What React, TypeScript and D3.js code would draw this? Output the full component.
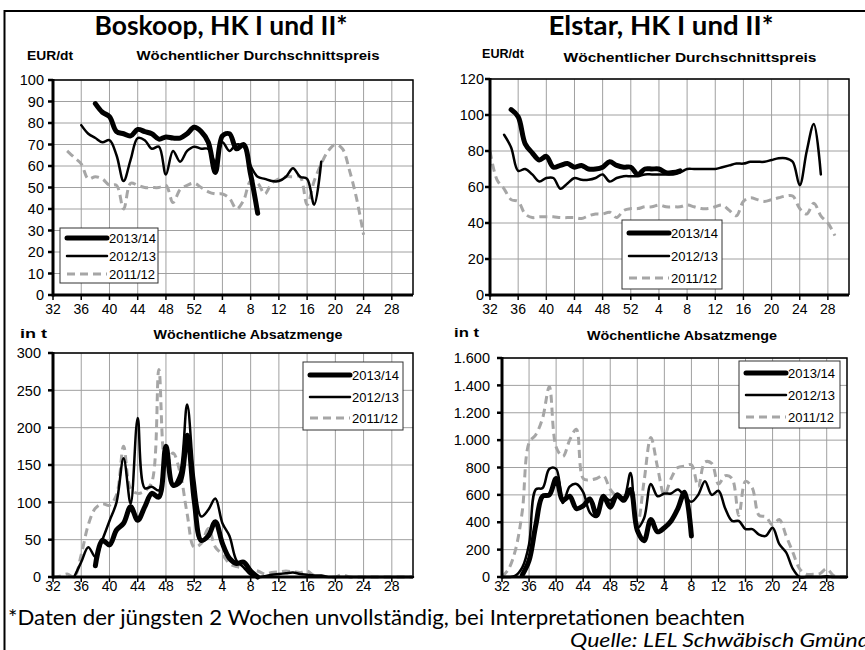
import React from 'react';
import * as d3 from 'd3';

// marketing weeks 32..52 of the first year, then 1..31 of the next
const weeks = [
  32, 33, 34, 35, 36, 37, 38, 39, 40, 41, 42, 43, 44, 45, 46, 47, 48, 49, 50, 51, 52,
  1, 2, 3, 4, 5, 6, 7, 8, 9, 10, 11, 12, 13, 14, 15, 16, 17, 18, 19, 20, 21, 22, 23, 24, 25, 26, 27, 28, 29, 30, 31,
];
const weekTicks = [32, 36, 40, 44, 48, 52, 4, 8, 12, 16, 20, 24, 28];
const seasons = ['2013/14', '2012/13', '2011/12'];

type V = number | null;
const _ = null;

// Boskoop, price EUR/dt
const boskoopPrice1314: V[] = [
  _, _, _, _, _, _, 89, 85, 83, 76, 75, 74, 77, 76, 75, 72.5, 73.5, 73, 73, 75, 78,
  76, 71, 57, 74, 75, 68, 70, 56, 38, _, _, _, _, _, _, _, _, _, _, _, _, _, _, _, _, _, _, _, _, _, _,
];
const boskoopPrice1213: V[] = [
  _, _, _, _, 79, 75, 73, 71, 72, 65, 53, 63, 73, 72, 68, 69, 56, 67, 62, 67, 69,
  68, 68, 62, 71, 67, 70, 69, 60, 55, 54, 53, 53, 55, 59, 55, 54, 42, 62, _, _, _, _, _, _, _, _, _, _, _, _, _,
];
const boskoopPrice1112: V[] = [
  _, _, 67, 64, 61, 54, 55, 54, 51, 51, 40, 52, 51, 50, 50, 50, 51, 43, 49, 51, 52,
  50, 48, 47, 47, 45, 40, 44, 53, 52, 47, 52, 54, 55, 55, 55, 42, 53, 61, 67, 70, 68, 58, 45, 28, _, _, _, _, _, _, _,
];

// Elstar, price EUR/dt
const elstarPrice1314: V[] = [
  _, _, _, 103, 99, 84, 79, 75, 77, 71, 72, 73, 71, 72, 70, 70, 71, 74, 72, 71, 71,
  67, 70, 70, 70, 68, 68, 69, _, _, _, _, _, _, _, _, _, _, _, _, _, _, _, _, _, _, _, _, _, _, _, _,
];
const elstarPrice1213: V[] = [
  _, _, 89, 82, 69, 70, 67, 63, 65, 65, 59, 62, 65, 64, 64, 65, 67, 63, 65, 66, 66,
  66, 67, 67, 67, 67, 67, 68, 70, 70, 70, 70, 70, 71, 72, 73, 73, 74, 74, 74, 75, 76, 76, 74, 61, 80, 95, 67, _, _, _, _,
];
const elstarPrice1112: V[] = [
  80, 64, 59, 53, 52, 45, 43, 43.5, 43.5, 43.5, 43, 43, 43, 42.5, 44, 45, 45, 46, 43, 47, 48,
  48, 49, 49, 50, 49, 49, 49, 50, 49, 48, 48, 49, 50, 47, 44, 52, 54, 53, 52, 53, 54, 55, 55, 48, 45, 51, 44, 40, 33, _, _,
];

// Boskoop, sales in t
const boskoopSales1314: V[] = [
  _, _, _, _, _, _, 15, 49, 43, 63, 72, 94, 76, 94, 112, 107, 175, 123, 128, 190, 103,
  49, 55, 74, 45, 25, 18, 20, 8, 0, _, _, _, _, _, _, _, _, _, _, _, _, _, _, _, _, _, _, _, _, _, _,
];
const boskoopSales1213: V[] = [
  _, _, _, 0, 20, 40, 27, 50, 75, 100, 159, 98, 213, 119, 121, 116, 175, 123, 139, 231, 132,
  81, 90, 105, 72, 55, 22, 13, 3, 0, 1, 3, 4, 5, 6, 4, 3, 2, 2, 0, 0, 0, 0, 0, 0, 0, 0, 0, 0, 0, 0, 0,
];
const boskoopSales1112: V[] = [
  0, 1, 4, 0, 30, 70, 92, 98, 96, 110, 175, 118, 112, 115, 127, 278, 148, 166, 140, 85, 40,
  45, 65, 40, 30, 18, 14, 12, 10, 8, 4, 6, 7, 8, 7, 6, 8, 2, 1, 0, 0, 3, 0, 0, 0, 0, 0, 0, 0, 0, 0, 0,
];

// Elstar, sales in t
const elstarSales1314: V[] = [
  _, _, _, 15, 120, 380, 590, 600, 720, 560, 590, 500, 520, 570, 450, 590, 510, 600, 560, 640, 340,
  265, 420, 330, 360, 410, 500, 620, 300, _, _, _, _, _, _, _, _, _, _, _, _, _, _, _, _, _, _, _, _, _, _, _,
];
const elstarSales1213: V[] = [
  0, 0, 10, 70, 240, 640, 650, 790, 790, 540, 660, 680, 620, 470, 440, 580, 560, 600, 580, 760, 360,
  430, 680, 590, 610, 610, 640, 590, 550, 600, 700, 600, 630, 500, 410, 410, 350, 350, 310, 300, 360, 240, 180, 60, 0, 0, 0, 0, 5, 0, 0, 0,
];
const elstarSales1112: V[] = [
  0, 60, 200, 480, 980, 1040, 1160, 1390, 950, 880, 1000, 1080, 720, 710, 720, 740, 640, 590, 580, 600, 380,
  700, 1020, 800, 600, 720, 800, 810, 820, 660, 840, 830, 680, 740, 720, 450, 700, 650, 450, 440, 380, 420, 300, 180, 60, 20, 20, 25, 60, 10, 0, 0,
];

const de = d3.formatLocale({ decimal: ',', thousands: '.', grouping: [3], currency: ['', ' €'] });
const fmtThousands = de.format(',d');

const lineStyles = [
  { width: 5, color: '#000', dash: undefined as string | undefined },
  { width: 2.5, color: '#000', dash: undefined as string | undefined },
  { width: 3, color: '#a6a6a6', dash: '8,5' },
];

const tickFont = '"Liberation Sans", Arial, sans-serif';

interface PanelProps {
  left: number; top: number; right: number; bottom: number;
  max: number; step: number;
  series: V[][];
  labelRight: number;
  xLabelY: number;
  unit: string; unitX: number; unitY: number; unitLen: number;
  heading: string; headingX: number; headingY: number; headingLen: number;
  legend: { x: number; y: number; w: number; h: number; rows: number[] };
  format?: (v: number) => string;
}

function Panel(p: PanelProps) {
  const x = d3.scalePoint<number>().domain(weeks).range([p.left, p.right]);
  const y = d3.scaleLinear().domain([0, p.max]).range([p.bottom, p.top]);
  const yTicks = d3.range(0, p.max + p.step / 2, p.step);
  const fmt = p.format ?? ((v: number) => String(v));
  const line = d3.line<V>()
    .defined((d) => d != null)
    .x((_d, i) => x(weeks[i]) as number)
    .y((d) => y(d as number))
    .curve(d3.curveCatmullRom);
  const order = [2, 1, 0];

  return (
    <g>
      {/* grid */}
      {yTicks.map((t) => (
        <line key={'h' + t} x1={p.left} x2={p.right} y1={y(t)} y2={y(t)} stroke="#a0a0a0" strokeWidth={1} />
      ))}
      {weekTicks.map((w) => (
        <line key={'v' + w} x1={x(w)} x2={x(w)} y1={p.top} y2={p.bottom} stroke="#a0a0a0" strokeWidth={1} />
      ))}
      {/* plot border top/right */}
      <polyline points={`${p.left},${p.top} ${p.right},${p.top} ${p.right},${p.bottom}`} fill="none" stroke="#000" strokeWidth={1.5} />

      {/* series */}
      {order.map((k) => (
        <path key={'s' + k} d={line(p.series[k]) ?? ''} fill="none"
          stroke={lineStyles[k].color} strokeWidth={lineStyles[k].width}
          strokeDasharray={lineStyles[k].dash}
          strokeLinejoin="round" strokeLinecap={lineStyles[k].dash ? 'butt' : 'round'} />
      ))}

      {/* axes */}
      <line x1={p.left} x2={p.left} y1={p.top - 1} y2={p.bottom + 1.5} stroke="#000" strokeWidth={3} />
      <line x1={p.left} x2={p.right} y1={p.bottom} y2={p.bottom} stroke="#000" strokeWidth={3} />
      {yTicks.map((t) => (
        <g key={'yt' + t}>
          <line x1={p.left - 5} x2={p.left} y1={y(t)} y2={y(t)} stroke="#000" strokeWidth={2.5} />
          <text x={p.labelRight} y={y(t)} dy="0.36em" textAnchor="end" fontFamily={tickFont} fontSize={14.5}>{fmt(t)}</text>
        </g>
      ))}
      {weekTicks.map((w) => (
        <g key={'xt' + w}>
          <line x1={x(w)} x2={x(w)} y1={p.bottom} y2={p.bottom + 5} stroke="#000" strokeWidth={1.5} />
          <text x={x(w)} y={p.xLabelY} textAnchor="middle" fontFamily={tickFont} fontSize={14}>{w}</text>
        </g>
      ))}

      {/* headings */}
      <text x={p.unitX} y={p.unitY} fontFamily={tickFont} fontWeight="bold" fontSize={12.5}
        textLength={p.unitLen} lengthAdjust="spacingAndGlyphs">{p.unit}</text>
      <text x={p.headingX} y={p.headingY} textAnchor="middle" fontFamily={tickFont} fontWeight="bold" fontSize={12.5}
        textLength={p.headingLen} lengthAdjust="spacingAndGlyphs">{p.heading}</text>

      {/* legend */}
      <rect x={p.legend.x} y={p.legend.y} width={p.legend.w} height={p.legend.h} fill="#fff" stroke="#333" strokeWidth={1} />
      {seasons.map((s, k) => (
        <g key={'lg' + s}>
          <line x1={p.legend.x + 7} x2={p.legend.x + 47} y1={p.legend.rows[k]} y2={p.legend.rows[k]}
            stroke={lineStyles[k].color} strokeWidth={lineStyles[k].width} strokeDasharray={lineStyles[k].dash}
            strokeLinecap={lineStyles[k].dash ? 'butt' : 'round'} />
          <text x={p.legend.x + 49} y={p.legend.rows[k]} dy="0.36em" fontFamily={tickFont} fontSize={13}>{s}</text>
        </g>
      ))}
    </g>
  );
}

export default function App() {
  const titleFont = 'Lato, "Open Sans", sans-serif';
  return (
    <svg width={865} height={650} style={{ position: 'absolute', left: 0, top: 0, background: '#fff' }}>
      <rect x={0} y={0} width={865} height={650} fill="#fff" />
      {/* outer frame (left and top visible) */}
      <polyline points="4.5,660 4.5,11 870,11" fill="none" stroke="#000" strokeWidth={2} />

      <text x={221} y={35} textAnchor="middle" fontFamily={titleFont} fontWeight="bold" fontSize={27}
        textLength={253} lengthAdjust="spacingAndGlyphs">Boskoop, HK I und II*</text>
      <text x={661} y={35} textAnchor="middle" fontFamily={titleFont} fontWeight="bold" fontSize={27}
        textLength={225} lengthAdjust="spacingAndGlyphs">Elstar, HK I und II*</text>

      <Panel left={53} top={80} right={413} bottom={295} max={100} step={10}
        series={[boskoopPrice1314, boskoopPrice1213, boskoopPrice1112]}
        labelRight={44} xLabelY={314}
        unit="EUR/dt" unitX={27} unitY={60} unitLen={46}
        heading="Wöchentlicher Durchschnittspreis" headingX={258} headingY={60} headingLen={243}
        legend={{ x: 60, y: 228, w: 98, h: 55, rows: [238, 256, 274] }} />

      <Panel left={490} top={79} right={849} bottom={295} max={120} step={20}
        series={[elstarPrice1314, elstarPrice1213, elstarPrice1112]}
        labelRight={484} xLabelY={314}
        unit="EUR/dt" unitX={482} unitY={58} unitLen={42}
        heading="Wöchentlicher Durchschnittspreis" headingX={690} headingY={62} headingLen={253}
        legend={{ x: 622, y: 220, w: 100, h: 69, rows: [233, 256, 278] }} />

      <Panel left={53} top={353} right={413} bottom={577} max={300} step={50}
        series={[boskoopSales1314, boskoopSales1213, boskoopSales1112]}
        labelRight={41} xLabelY={591}
        unit="in t" unitX={20} unitY={338} unitLen={27}
        heading="Wöchentliche Absatzmenge" headingX={248} headingY={339} headingLen={189}
        legend={{ x: 303, y: 362, w: 100, h: 68, rows: [375, 397, 418] }} />

      <Panel left={502} top={358} right={847} bottom={577} max={1600} step={200}
        series={[elstarSales1314, elstarSales1213, elstarSales1112]}
        labelRight={490} xLabelY={591}
        unit="in t" unitX={454} unitY={337} unitLen={25}
        heading="Wöchentliche Absatzmenge" headingX={682} headingY={340} headingLen={190}
        legend={{ x: 739, y: 361, w: 101, h: 67, rows: [373, 395, 417] }}
        format={fmtThousands} />

      <text x={8} y={625} fontFamily={titleFont} fontSize={22} textLength={737} lengthAdjust="spacingAndGlyphs">
        *Daten der jüngsten 2 Wochen unvollständig, bei Interpretationen beachten
      </text>
      <text x={570} y={647} fontFamily={titleFont} fontStyle="italic" fontSize={19}
        textLength={300} lengthAdjust="spacingAndGlyphs">Quelle: LEL Schwäbisch Gmünd</text>
    </svg>
  );
}
